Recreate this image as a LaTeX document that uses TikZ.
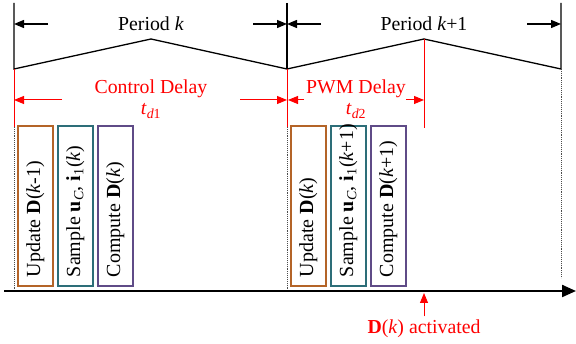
\documentclass[tikz,border=0pt]{standalone}
\usepackage{fontspec}
\setmainfont{Liberation Serif}
\usepackage{xcolor}
\usetikzlibrary{arrows.meta}
\definecolor{updbrown}{RGB}{180,100,40}
\definecolor{smpteal}{RGB}{45,110,120}
\definecolor{cmppurple}{RGB}{95,75,135}
\newcommand{\tasktext}[1]{\makebox[142pt][l]{#1}}

\begin{document}
\begin{tikzpicture}[x=1pt,y=-1pt,
  every node/.style={font=\fontsize{19.8}{22}\selectfont},
  wave/.style={line width=1.3pt},
  dimtip/.style={-{Triangle[length=10pt,width=8pt]}},
  guide/.style={densely dotted, line width=0.9pt, black!70},
  redline/.style={red, line width=1pt},
  taskbox/.style={draw=#1, line width=1.8pt, rotate=90, anchor=north west,
    minimum height=35pt, inner xsep=9pt, inner ysep=0pt,
    font=\fontsize{20}{22}\selectfont}]
\useasboundingbox (0,0) rectangle (576,344);

% period borders and carrier
\coordinate (a0) at (14,3);
\coordinate (a1) at (287,3);
\coordinate (a2) at (561,3);
\coordinate (b0) at (14,69);
\coordinate (b1) at (287,69);
\coordinate (b2) at (561,69);
\coordinate (p0) at (151,39);
\coordinate (p1) at (424,39);
\draw[wave] (a0) -- (b0) -- (p0) -- (b1) -- (p1) -- (b2) -- (a2);
\draw[wave] (a1) -- (b1);

\node (per1) at (151,24) {Period \textit{k}};
\node (per2) at (424,24) {Period \textit{k}+1};
\draw[wave,dimtip] ([xshift=34]a0 |- per1) -- (a0 |- per1);
\draw[wave,dimtip] ([xshift=-34]a1 |- per1) -- (a1 |- per1);
\draw[wave,dimtip] ([xshift=34]a1 |- per2) -- (a1 |- per2);
\draw[wave,dimtip] ([xshift=-34]a2 |- per2) -- (a2 |- per2);

% delays
\coordinate (c0) at (14,127);
\coordinate (c1) at (287,127);
\coordinate (c2) at (424,128);
\draw[redline] (b0) -- (c0);
\draw[redline] (b1) -- (c1);
\draw[redline] (p1) -- (c2);

\node[red] (cdel) at (151,89) {Control Delay};
\node[red] (td1) at (151,111) {\textit{t}\textsubscript{\textit{d}1}};
\node[red] (pdel) at (356,89) {PWM Delay};
\node[red] (td2) at (356,111) {\textit{t}\textsubscript{\textit{d}2}};
\coordinate (r0) at (14,100);
\coordinate (r1) at (287,100);
\coordinate (r2) at (288,100);
\coordinate (r3) at (424,100);
\draw[redline,dimtip] ([xshift=48]r0) -- (r0);
\draw[redline,dimtip] ([xshift=-47]r1) -- (r1);
\draw[redline,dimtip] ([xshift=16]r2) -- (r2);
\draw[redline,dimtip] ([xshift=-18]r3) -- (r3);

% sampling instants
\coordinate (g0) at (14,291);
\coordinate (g1) at (287,291);
\coordinate (g2) at (561,278);
\draw[guide] (c0) -- (g0);
\draw[guide] (c1) -- (g1);
\draw[guide] (b2) -- (g2);

% tasks
\node[taskbox=updbrown] (upd1) at (17,287) {\tasktext{Update \textbf{D}(\textit{k}-1)}};
\node[taskbox=smpteal] (smp1) at (57,287) {\tasktext{Sample \textbf{u}\textsubscript{\textit{C}}, \textbf{i}\textsubscript{1}(\textit{k})}};
\node[taskbox=cmppurple] (cmp1) at (97,287) {\tasktext{Compute \textbf{D}(\textit{k})}};
\node[taskbox=updbrown] (upd2) at (290,287) {\tasktext{Update \textbf{D}(\textit{k})}};
\node[taskbox=smpteal] (smp2) at (330,287) {\tasktext{Sample \textbf{u}\textsubscript{\textit{C}}, \textbf{i}\textsubscript{1}(\textit{k}+1)}};
\node[taskbox=cmppurple] (cmp2) at (370,287) {\tasktext{Compute \textbf{D}(\textit{k}+1)}};

% time axis
\coordinate (ax0) at (4,291);
\coordinate (ax1) at (576,291);
\draw[line width=2.2pt,-{Triangle[length=14pt,width=12pt]}] (ax0) -- (ax1);

\node[red] (act) at (424,329) {\textbf{D}(\textit{k}) activated};
\coordinate (ac) at (424,293);
\draw[redline,dimtip] (act.north -| ac) -- (ac);
\end{tikzpicture}
\end{document}
